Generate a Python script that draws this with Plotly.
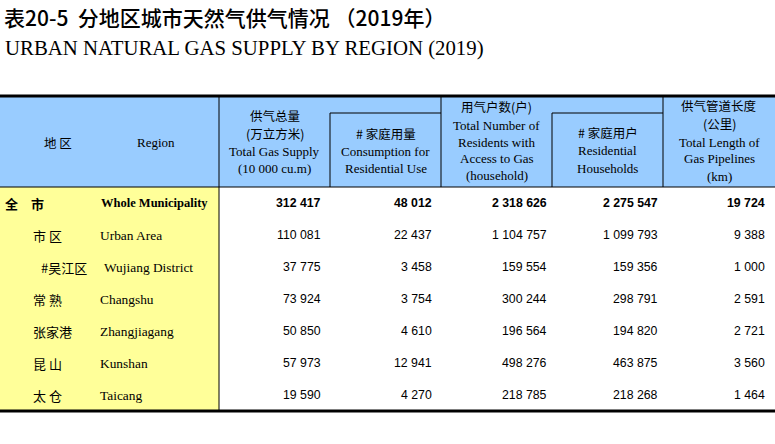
import plotly.graph_objects as go

# ---- data ----
regions_cn = ["全　市", "市 区", "#吴江区", "常 熟", "张家港", "昆 山", "太 仓"]
regions_en = ["Whole Municipality", "Urban Area", "Wujiang District", "Changshu",
              "Zhangjiagang", "Kunshan", "Taicang"]
region_level = [0, 1, 2, 1, 1, 1, 1]

total_supply = [312417, 110081, 37775, 73924, 50850, 57973, 19590]
residential_use = [48012, 22437, 3458, 3754, 4610, 12941, 4270]
gas_users = [2318626, 1104757, 159554, 300244, 196564, 498276, 218785]
residential_households = [2275547, 1099793, 159356, 298791, 194820, 463875, 218268]
pipeline_km = [19724, 9388, 1000, 2591, 2721, 3560, 1464]

title_cn = "表20-5  分地区城市天然气供气情况 （2019年）"
title_en = "URBAN NATURAL GAS SUPPLY BY REGION (2019)"

# header text, one list of lines per column
head_region = ["地 区", "Region"]
head_cols = [
    ["供气总量", "(万立方米)", "Total Gas Supply", "(10 000 cu.m)"],
    ["# 家庭用量", "Consumption for", "Residential Use"],
    ["用气户数(户)", "Total Number of", "Residents with", "Access to Gas", "(household)"],
    ["# 家庭用户", "Residential", "Households"],
    ["供气管道长度", "(公里)", "Total Length of", "Gas Pipelines", "(km)"],
]

# ---- layout constants (pixels) ----
W, H = 775, 444
col_edges = [219, 330, 441, 552, 663, 775]
num_right = [323, 434, 549, 660, 767]
head_top, head_sub, head_bot, table_bot = 96, 113, 187, 411
row_y0, row_h = 203, 32
level_x = [3, 31, 39]
en_x = [99, 98, 102]
head_line_y = [
    [115, 133, 151, 168],
    [133, 151, 168],
    [106, 125, 142, 158, 175],
    [132, 150, 168],
    [105, 123, 142, 158, 176],
]

BLUE = "#99CCFF"
YELLOW = "#FFFF99"
CJK = "Noto Sans CJK SC"
SERIF = "Liberation Serif"
SANS = "Liberation Sans"


def fmt(v):
    return f"{v:,}".replace(",", " ")


fig = go.Figure(go.Scatter(x=[], y=[], showlegend=False))

shapes = []
# backgrounds
shapes.append(dict(type="rect", x0=0, x1=W, y0=head_top, y1=head_bot,
                   fillcolor=BLUE, line_width=0, layer="below"))
shapes.append(dict(type="rect", x0=0, x1=col_edges[0], y0=head_bot, y1=table_bot,
                   fillcolor=YELLOW, line_width=0, layer="below"))
# grid lines
shapes.append(dict(type="line", x0=0, x1=W, y0=head_bot, y1=head_bot,
                   line=dict(color="black", width=1)))
shapes.append(dict(type="line", x0=col_edges[0], x1=col_edges[0], y0=head_top, y1=table_bot,
                   line=dict(color="black", width=1)))
for cx in [col_edges[2], col_edges[4]]:
    shapes.append(dict(type="line", x0=cx, x1=cx, y0=head_top, y1=head_bot,
                       line=dict(color="black", width=1)))
for a, b in [(1, 2), (3, 4)]:
    shapes.append(dict(type="line", x0=col_edges[a], x1=col_edges[b], y0=head_sub, y1=head_sub,
                       line=dict(color="black", width=1)))
    shapes.append(dict(type="line", x0=col_edges[a], x1=col_edges[a], y0=head_sub, y1=head_bot,
                       line=dict(color="black", width=1)))
shapes.append(dict(type="line", x0=0, x1=W, y0=head_top, y1=head_top,
                   line=dict(color="black", width=3)))
shapes.append(dict(type="line", x0=0, x1=W, y0=table_bot, y1=table_bot,
                   line=dict(color="black", width=3)))

ann = []


def txt(x, y, s, font, anchor="left"):
    ann.append(dict(x=x, y=y, xref="x", yref="y", text=s, showarrow=False,
                    xanchor=anchor, yanchor="middle", font=font))


# titles
txt(2, 17, title_cn, dict(family=CJK, size=21, color="black", weight=500))
txt(3, 48, title_en, dict(family=SERIF, size=20.8, color="black"))

# header
txt(58, 142, head_region[0], dict(family=CJK, size=12.5, color="black"), "center")
txt(156, 142, head_region[1], dict(family=SERIF, size=13, color="black"), "center")
for c, lines in enumerate(head_cols):
    cx = (col_edges[c] + col_edges[c + 1]) / 2
    for line, ly in zip(lines, head_line_y[c]):
        if line.isascii():
            f = dict(family=SERIF, size=13, color="black")
        else:
            f = dict(family=CJK, size=12.5, color="black")
        txt(cx, ly, line, f, "center")

# body
columns = [total_supply, residential_use, gas_users, residential_households, pipeline_km]
for i in range(len(regions_cn)):
    y = row_y0 + i * row_h
    lvl = region_level[i]
    bold = "bold" if lvl == 0 else "normal"
    txt(level_x[lvl], y, regions_cn[i], dict(family=CJK, size=13, color="black", weight=bold))
    txt(en_x[lvl], y, regions_en[i],
        dict(family=SERIF, size=12.5 if lvl == 0 else 13.4, color="black", weight=bold))
    for c, vals in enumerate(columns):
        txt(num_right[c], y, fmt(vals[i]),
            dict(family=SANS, size=12.3, color="black", weight=bold), "right")

fig.update_layout(
    width=W, height=H,
    margin=dict(l=0, r=0, t=0, b=0),
    paper_bgcolor="white", plot_bgcolor="white",
    xaxis=dict(range=[0, W], visible=False, fixedrange=True),
    yaxis=dict(range=[H, 0], visible=False, fixedrange=True),
    shapes=shapes, annotations=ann, showlegend=False,
)

fig.write_html("out.html", config={"displayModeBar": False},
               post_script="document.body.style.margin='0';")
